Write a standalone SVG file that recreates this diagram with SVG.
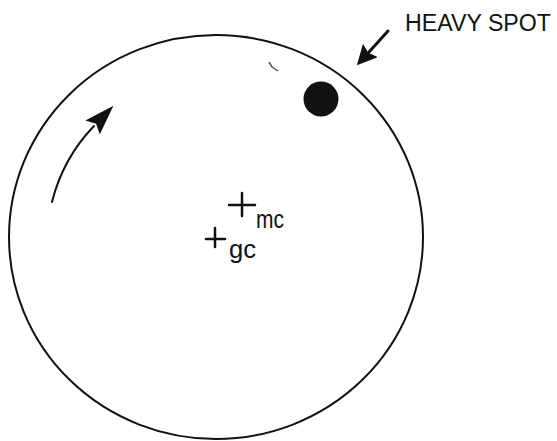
<svg xmlns="http://www.w3.org/2000/svg" width="557" height="441" viewBox="0 0 557 441">
<style>
.ln{fill:none;stroke:#111;stroke-linecap:round}
.txt{font-family:"Liberation Sans",Arial,sans-serif;fill:#111}
</style>
<defs>
<marker id="ah" viewBox="0 0 30 20" refX="2" refY="10" markerWidth="30" markerHeight="20" markerUnits="userSpaceOnUse" orient="auto">
<path d="M0,0 L30,10 L0,20 L5,10 Z" fill="#111"/>
</marker>
<marker id="ah2" viewBox="0 0 20 20" refX="2" refY="10" markerWidth="20" markerHeight="20" markerUnits="userSpaceOnUse" orient="auto">
<path d="M0,0 L20,10 L0,20 L3,10 Z" fill="#111"/>
</marker>
</defs>
<rect width="557" height="441" fill="#fff"/>
<g id="rotor">
<ellipse cx="216" cy="237" rx="207" ry="202" class="ln" stroke-width="2"/>
</g>
<g id="heavy-spot">
<circle cx="321" cy="99" r="17.5" fill="#111"/>
<path d="M269 62 L272 67 L278 71" fill="none" stroke="#555" stroke-width="1.5"/>
</g>
<g id="mc">
<path d="M229 205 H255 M242 193 V216" class="ln" stroke-width="2.5"/>
<text x="256" y="228" class="txt" font-size="25" textLength="28" lengthAdjust="spacingAndGlyphs">mc</text>
</g>
<g id="gc">
<path d="M206 239 H225 M215 228 V247" class="ln" stroke-width="2.5"/>
<text x="229" y="258" class="txt" font-size="25" textLength="27" lengthAdjust="spacingAndGlyphs">gc</text>
</g>
<g id="label">
<text x="405" y="31" class="txt" font-size="23" textLength="146" lengthAdjust="spacingAndGlyphs">HEAVY SPOT</text>
</g>
<g id="connectors">
<path d="M52 202 A168 168 0 0 1 94 126" class="ln" stroke-width="2" marker-end="url(#ah)"/>
<path d="M388 31 L369 52" class="ln" stroke-width="3" marker-end="url(#ah2)"/>
</g>
</svg>
